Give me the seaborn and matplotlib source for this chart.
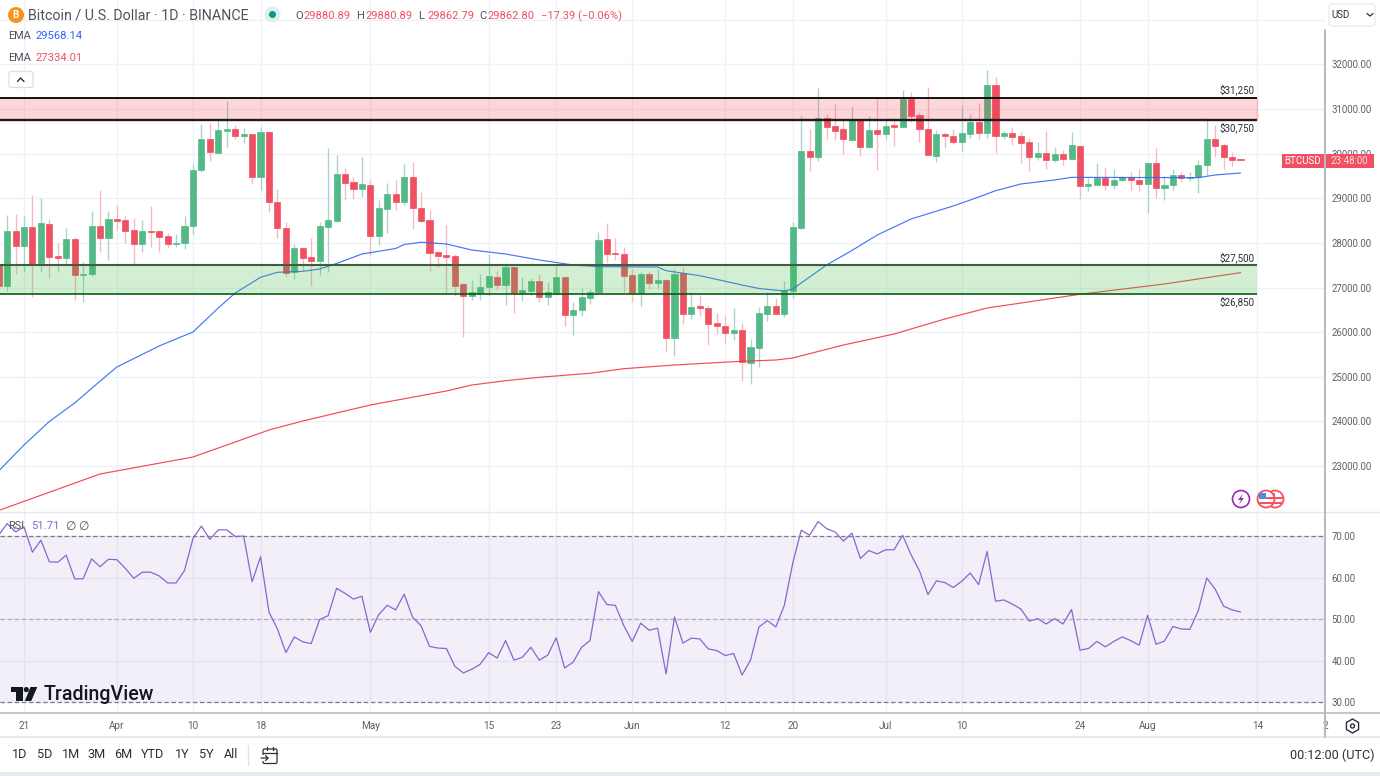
import numpy as np
import pandas as pd
import seaborn as sns
import matplotlib.pyplot as plt
from matplotlib.patches import Circle, FancyBboxPatch, Polygon, RegularPolygon, Rectangle

# daily candles, day 0 is the "21" tick of March
first_day = -3
open_ = [
    27500, 27034, 28260, 27923, 28357, 27542, 28432, 27707, 27669, 28080,
    27281, 27296, 28379, 28118, 28529, 28514, 28290, 27976, 28267, 28260,
    28155, 27976, 27991, 28379, 29635, 30330, 30016, 30517, 30546, 30404,
    30434, 29485, 30487, 28910, 28335, 27355, 27886, 27684, 27595, 28357,
    28491, 29545, 29358, 29201, 29298, 28163, 28760, 29097, 28925, 29478,
    28790, 28514, 27789, 27729, 27707, 27071, 26817, 26877, 27004, 27243,
    27064, 27460, 26877, 26922, 27146, 26788, 26877, 27236, 26384, 26489,
    26773, 26900, 28088, 27774, 27759, 27281, 26877, 27296, 27109, 27169,
    25861, 27326, 26406, 26586, 26548, 26197, 26145, 25988, 26048, 25315,
    25652, 26406, 26586, 26406, 26922, 28342, 30061, 29934, 30801, 30614,
    30547, 30307, 30756, 30158, 30532, 30449, 30644, 30606, 31234, 30868,
    30562, 29949, 30435, 30390, 30270, 30449, 30711, 30464, 31533, 30390,
    30464, 30390, 30263, 29934, 30016, 29866, 29993, 29881, 30173, 29276,
    29306, 29455, 29306, 29403, 29478, 29403, 29321, 29792, 29231, 29291,
    29530, 29455, 29470, 29747, 30337, 30195, 29934, 29880.89,
]
high = [
    27520, 28626, 28648, 28604, 29074, 29000, 28529, 27991, 28327, 28125,
    27580, 28723, 29186, 28723, 28850, 28626, 28551, 28514, 28828, 28290,
    28215, 28200, 28611, 29769, 30666, 30696, 30756, 31182, 30644, 30569,
    30440, 30606, 30500, 29201, 28469, 27976, 27900, 28103, 28476, 30120,
    29971, 29687, 29485, 29934, 29411, 28962, 29351, 29411, 29769, 29807,
    29134, 28738, 27800, 28402, 27744, 27094, 27169, 27303, 27744, 27378,
    27542, 27470, 27228, 27206, 27303, 27131, 27505, 27240, 26668, 26982,
    26959, 28245, 28439, 28103, 27908, 27415, 27356, 27370, 27415, 27180,
    27408, 27468, 26892, 26832, 26608, 26421, 26384, 26548, 26197, 25838,
    26571, 26892, 26758, 27146, 28461, 30845, 30554, 31481, 30883, 31115,
    30756, 31077, 30778, 30853, 31279, 30756, 30793, 31428, 31384, 30943,
    31488, 30532, 30494, 30554, 31092, 30890, 31129, 31877, 31712, 30517,
    30591, 30494, 30345, 30255, 30509, 30158, 30083, 30479, 30180, 29448,
    29799, 29710, 29650, 29508, 29597, 29650, 29799, 30135, 29508, 29650,
    29582, 29590, 29859, 30793, 30644, 30233, 30031, 29880.89,
]
low = [
    27000, 26922, 27303, 27355, 26795, 27355, 27221, 27355, 27505, 26720,
    26683, 27266, 27804, 27617, 28290, 27991, 27505, 27804, 27916, 27804,
    27879, 27916, 27856, 28192, 29597, 29837, 30008, 30158, 30330, 30248,
    29321, 29186, 28701, 28118, 27243, 27199, 27393, 27034, 27281, 27355,
    28476, 28962, 28977, 29037, 27729, 27953, 28215, 28738, 28850, 28312,
    28476, 27378, 27468, 26870, 26810, 25898, 26720, 26720, 26817, 26944,
    26608, 26421, 26698, 26832, 26683, 26608, 26855, 26145, 25936, 26362,
    26631, 26855, 27565, 27617, 26892, 26675, 26586, 26967, 26997, 25562,
    25465, 26182, 26294, 26369, 25711, 25958, 25749, 25824, 24912, 24837,
    25226, 26257, 26400, 26332, 26758, 28320, 29612, 29837, 30330, 30307,
    29986, 30300, 29949, 30136, 29635, 30307, 30173, 30600, 30718, 30270,
    29965, 29807, 30136, 30218, 30061, 30360, 30322, 30360, 30023, 30337,
    30195, 29799, 29620, 29859, 29650, 29822, 29747, 29859, 28985, 29164,
    29298, 29186, 29209, 29381, 29186, 29164, 28663, 28999, 28962, 29186,
    29373, 29388, 29126, 29523, 29934, 29657, 29732, 29862.79,
]
close = [
    27034, 28275, 27938, 28357, 27505, 28447, 27684, 27669, 28095, 27281,
    27303, 28379, 28118, 28529, 28499, 28267, 27976, 28260, 28252, 28140,
    27976, 27998, 28379, 29627, 30330, 30038, 30532, 30546, 30404, 30434,
    29485, 30487, 28910, 28327, 27333, 27886, 27669, 27595, 28372, 28506,
    29538, 29343, 29201, 29313, 28163, 28775, 29097, 28925, 29478, 28775,
    28499, 27781, 27707, 27692, 27034, 26810, 26900, 27019, 27258, 27064,
    27453, 26877, 26937, 27146, 26795, 26892, 27228, 26392, 26504, 26788,
    26900, 28065, 27759, 27752, 27258, 26877, 27296, 27101, 27169, 25861,
    27303, 26406, 26563, 26541, 26182, 26145, 25988, 26048, 25338, 25667,
    26429, 26586, 26406, 26937, 28357, 30061, 29934, 30793, 30606, 30509,
    30322, 30756, 30158, 30532, 30449, 30629, 30606, 31234, 30853, 30547,
    29971, 30435, 30390, 30270, 30464, 30711, 30464, 31533, 30390, 30464,
    30375, 30248, 29934, 30016, 29866, 29993, 29874, 30195, 29276, 29321,
    29455, 29306, 29411, 29478, 29403, 29321, 29792, 29239, 29306, 29530,
    29463, 29485, 29754, 30337, 30180, 29919, 29859, 29862.80,
]
rsi = [
    70.2, 73.0, 71.0, 72.2, 66.1, 69.0, 63.8, 63.7, 65.4, 59.7,
    59.7, 64.5, 62.6, 64.4, 64.3, 62.2, 59.8, 61.3, 61.3, 60.4,
    58.7, 58.7, 61.7, 69.4, 72.4, 69.2, 71.5, 71.5, 69.9, 70.0,
    59.0, 65.0, 51.7, 47.6, 41.9, 45.7, 44.5, 44.1, 49.9, 50.8,
    57.4, 56.2, 54.8, 55.5, 46.8, 51.1, 53.3, 52.2, 56.0, 50.4,
    48.4, 43.4, 43.0, 42.9, 38.6, 37.0, 37.9, 39.1, 41.9, 40.6,
    44.8, 40.1, 40.8, 43.2, 40.1, 41.3, 45.5, 38.2, 39.6, 43.2,
    44.8, 56.6, 53.5, 53.3, 48.4, 44.6, 49.0, 47.3, 47.8, 36.8,
    50.5, 44.2, 45.4, 45.2, 42.8, 42.4, 41.2, 41.7, 36.5, 40.1,
    48.1, 49.6, 48.1, 53.3, 63.5, 71.4, 70.2, 73.5, 71.8, 71.0,
    68.8, 70.7, 64.6, 66.5, 65.7, 66.7, 66.7, 70.2, 65.5, 61.6,
    55.9, 59.2, 58.8, 57.6, 59.1, 61.1, 58.3, 66.3, 54.3, 54.6,
    53.6, 52.4, 49.5, 50.1, 48.8, 50.1, 48.8, 52.3, 42.5, 42.9,
    44.6, 43.3, 44.6, 45.7, 44.8, 43.7, 50.9, 43.9, 44.7, 48.2,
    47.6, 47.5, 52.0, 59.9, 57.2, 53.1, 52.2, 51.71,
]

# moving averages
ema_fast_day = [-3, 0, 3, 6, 9, 11, 16, 20, 23, 25, 28, 30, 33, 35, 37, 40, 44, 45, 47, 50,
                53, 57, 61, 65, 68, 75, 76, 80, 85, 87, 90, 91, 95, 98, 101, 105, 110, 113,
                115, 118, 122, 124, 139, 141, 144]
ema_fast = [22886, 23469, 23996, 24411, 24900, 25218, 25689, 26002, 26541, 26877, 27229, 27341,
            27363, 27415, 27538, 27751, 27875, 27964, 28014, 27976, 27841, 27751, 27617, 27505,
            27467, 27460, 27377, 27265, 27056, 26978, 26922, 26967, 27505, 27830, 28177, 28536,
            28828, 29029, 29170, 29321, 29411, 29470, 29463, 29523, 29568.14]
ema_slow_day = [-3, 9, 20, 29, 33, 41, 50, 53, 57, 61, 67, 71, 77, 84, 89, 91, 97, 103, 109,
                114, 125, 135, 144]
ema_slow = [22001, 22819, 23200, 23805, 24007, 24366, 24680, 24814, 24911, 24987, 25077, 25180,
            25263, 25337, 25375, 25420, 25711, 25958, 26294, 26540, 26848, 27079, 27334.01]

price_ticks = [23000, 24000, 25000, 26000, 27000, 28000, 29000, 30000, 31000, 32000, 33000]
rsi_ticks = [30, 40, 50, 60, 70]
date_days = [0, 11, 20, 28, 41, 55, 63, 72, 83, 91, 102, 111, 125, 133, 146, 154]
date_labels = ["21", "Apr", "10", "18", "May", "15", "23", "Jun", "12", "20", "Jul", "10", "24", "Aug", "14", "2"]

zones = [
    (30750, 31250, "$31,250", "$30,750"),
    (26850, 27500, "$27,500", "$26,850"),
]
zone_end = 146

GREEN = "#53b987"
RED = "#ef5062"
GREEN_WICK = "#a9d2cf"
RED_WICK = "#f7b8c0"
GRID = "#eef2f7"
TXT = "#5d606b"

sns.set_theme(style="white")
plt.rcParams["font.family"] = ["Roboto", "DejaVu Sans"]

W, H = 1380, 776
fig = plt.figure(figsize=(W / 100, H / 100), dpi=100, facecolor="white")
ax = fig.add_axes([0, 1 - 512 / H, 1325 / W, 512 / H])
ax_rsi = fig.add_axes([0, 1 - 713 / H, 1325 / W, 201 / H])

df = pd.DataFrame({"open": open_, "high": high, "low": low, "close": close, "rsi": rsi})
df["day"] = first_day + np.arange(len(df))
df["up"] = df["close"] >= df["open"]

xlim = (-2.84, 153.96)

for a in (ax, ax_rsi):
    a.set_xlim(*xlim)
    a.set_xticks(date_days)
    a.grid(True, color=GRID, linewidth=1)
    a.set_axisbelow(True)
    for s in a.spines.values():
        s.set_visible(False)
    a.yaxis.tick_right()
    a.tick_params(axis="y", length=0, pad=4.5, labelsize=6.9, labelcolor=TXT)

# candles
ax.vlines(df["day"], df["low"], df["high"], colors=[GREEN_WICK if u else RED_WICK for u in df["up"]],
          linewidth=0.95, zorder=2)
ax.bar(df["day"], (df["close"] - df["open"]).abs(), bottom=df[["open", "close"]].min(axis=1), width=0.72,
       color=[GREEN if u else RED for u in df["up"]], edgecolor=[GREEN if u else RED for u in df["up"]],
       linewidth=0.5, zorder=3)

# moving averages
sns.lineplot(x=ema_fast_day, y=ema_fast, ax=ax, color="#2f67f5", linewidth=0.85, alpha=0.9, zorder=4, errorbar=None)
sns.lineplot(x=ema_slow_day, y=ema_slow, ax=ax, color="#f23645", linewidth=0.85, alpha=0.9, zorder=4, errorbar=None)

# support / resistance boxes sit over everything
ax.fill_between([xlim[0], zone_end], zones[0][0], zones[0][1], color="#f23645", alpha=0.2, linewidth=0, zorder=5)
ax.fill_between([xlim[0], zone_end], zones[1][0], zones[1][1], color="#43c04a", alpha=0.24, linewidth=0, zorder=5)
ax.vlines(zone_end, zones[0][0], zones[0][1], color="#f7b3ba", linewidth=1, zorder=6)
ax.hlines(zones[0][1], xlim[0], zone_end, color="black", linewidth=1.3, zorder=6)
ax.hlines(zones[0][0], xlim[0], zone_end, color="#201a1a", linewidth=1.7, zorder=6)
ax.hlines(zones[1][1], xlim[0], zone_end, color="#3f5d3f", linewidth=1.5, zorder=6)
ax.hlines(zones[1][0], xlim[0], zone_end, color="#0b5d0b", linewidth=1.2, zorder=6)

ax.set_ylim(21967, 33446)
ax.set_yticks(price_ticks)
ax.set_yticklabels([f"{p:.2f}" if p < 33000 else "" for p in price_ticks])
ax.tick_params(axis="x", length=0, labelbottom=False)
for z in zones:
    ax.text(zone_end - 0.35, z[1] + 175, z[2], ha="right", va="center", fontsize=7.1, color="#2a2e39", zorder=7)
    ax.text(zone_end - 0.35, z[0] - 160, z[3], ha="right", va="center", fontsize=7.1, color="#2a2e39", zorder=7)

# RSI pane
ax_rsi.axhspan(30, 70, color="#7e57c2", alpha=0.095, linewidth=0, zorder=1)
sns.lineplot(x=df["day"], y=df["rsi"], ax=ax_rsi, color="#8a65cf", linewidth=0.9, zorder=4, errorbar=None)
ax_rsi.axhline(70, color="#787b86", linewidth=0.9, dashes=(3.5, 2.2), zorder=3)
ax_rsi.axhline(30, color="#787b86", linewidth=0.9, dashes=(3.5, 2.2), zorder=3)
ax_rsi.axhline(50, color="#b3abc4", linewidth=0.9, dashes=(3.5, 2.2), zorder=3)
ax_rsi.set_ylim(27.35, 75.8)
ax_rsi.set_yticks(rsi_ticks)
ax_rsi.set_yticklabels([f"{v:.2f}" for v in rsi_ticks])
ax_rsi.set_xticks(date_days)
ax_rsi.set_xticklabels(date_labels)
ax_rsi.tick_params(axis="x", length=0, pad=6, labelsize=7.2, labelcolor=TXT)
ax_rsi.set_xlabel("")
ax_rsi.set_ylabel("")
ax.set_xlabel("")
ax.set_ylabel("")

# overlay in screen pixels for the TradingView furniture
ui = fig.add_axes([0, 0, 1, 1], facecolor="none")
ui.set_xlim(0, W)
ui.set_ylim(H, 0)
ui.axis("off")
ui.set_zorder(10)


def fs(px):
    return px * 0.72


def label(x, y, s, size=11, color="#4a4e5a", ha="left", **kw):
    ui.text(x, y, s, fontsize=fs(size), color=color, ha=ha, va="center", **kw)


# panel borders
ui.plot([0, W], [512, 512], color="#e6e9ef", lw=1)
ui.plot([0, W], [713, 713], color="#b8bbc4", lw=1.2)
ui.plot([0, W], [737, 737], color="#e3e5ea", lw=1.2)
ui.plot([1325, 1325], [30, 737], color="#b8bbc4", lw=1.5)
ui.add_patch(Rectangle((0, 772), W, 4, color="#e9ebf2", lw=0))

# header
ui.add_patch(Circle((16, 15), 8, color="#f7931a", lw=0))
ui.text(16, 15.3, "B", fontsize=fs(10), color="white", ha="center", va="center", fontweight="bold")
label(28, 15, "Bitcoin / U.S. Dollar · 1D · BINANCE", size=14.2, color="#50535e")
ui.add_patch(Circle((272.5, 14.5), 8, color="#daf1ed", lw=0))
ui.add_patch(Circle((272.5, 14.5), 3.5, color="#089981", lw=0))
ohlc_x = [295, 356, 418, 479]
ohlc_names = ["O", "H", "L", "C"]
ohlc_vals = ["29880.89", "29880.89", "29862.79", "29862.80"]
for x0, n, v in zip(ohlc_x, ohlc_names, ohlc_vals):
    label(x0, 16, n, size=11.2, color="#50535e")
    label(x0 + 9, 16, v, size=11.2, color=RED)
label(541, 16, "−17.39 (−0.06%)", size=11.1, color=RED)
label(8, 36, "EMA", size=11, color="#50535e")
label(36, 36, "29568.14", size=11.2, color="#2962ff")
label(8, 58, "EMA", size=11, color="#50535e")
label(36, 58, "27334.01", size=11.2, color=RED)
ui.add_patch(FancyBboxPatch((9, 71.5), 24, 16, boxstyle="round,pad=0,rounding_size=2", fc="white", ec="#dcdfe6", lw=0.9))
ui.plot([17.5, 20.5, 24], [81.5, 78, 81.5], color="#2a2e39", lw=1)

# USD selector
ui.add_patch(FancyBboxPatch((1329, 4), 46, 22, boxstyle="round,pad=0,rounding_size=3", fc="white", ec="#e6e9ef", lw=0.9))
label(1331.5, 14.5, "USD", size=9.6, color="#2a2e39")
ui.plot([1367, 1370, 1373], [13.5, 16, 13.5], color="#2a2e39", lw=0.9)

# last price tag
ui.add_patch(Rectangle((1281.5, 154), 42.5, 14, color=RED, lw=0))
ui.add_patch(Rectangle((1325.5, 154), 48, 14, color=RED, lw=0))
label(1302.5, 161, "BTCUSD", size=9.8, color="white", ha="center")
label(1349.5, 161, "23:48:00", size=9.8, color="#fbdde1", ha="center")

# event markers
ui.add_patch(Circle((1241, 499), 8.5, fc="white", ec="#9c27b0", lw=1.2))
ui.add_patch(Polygon([(1243, 493.5), (1238, 500), (1241, 500), (1239, 504.5), (1244, 498), (1241, 498)], color="#9c27b0", lw=0))
for cx in (1275, 1266):
    ui.add_patch(Circle((cx, 499), 8.5, fc="white", ec="#f6525f", lw=1.3, zorder=3))
    ui.add_patch(Rectangle((cx - 7.5, 497), 15, 2.2, color="#f6525f", lw=0, zorder=3))
    ui.add_patch(Rectangle((cx - 7, 501.5), 14, 2.2, color="#f6525f", lw=0, zorder=3))
    ui.add_patch(Rectangle((cx - 7, 492.5), 7, 6, color="#4a90e2", lw=0, zorder=3))

# RSI caption and logo
label(8, 526, "RSI", size=11, color="#50535e")
label(31, 526, "51.71", size=11.2, color="#8a65cf")
label(65, 526, "∅", size=12, color="#50535e")
label(78, 526, "∅", size=12, color="#50535e")
ui.add_patch(Polygon([(10.7, 687), (22.5, 687), (22.5, 701), (16, 701), (16, 692), (10.7, 692)], color="#131722", lw=0))
ui.add_patch(Circle((26.3, 689.6), 2.6, color="#131722", lw=0))
ui.add_patch(Polygon([(30.5, 687), (37.3, 687), (31.2, 701), (24.8, 701)], color="#131722", lw=0))
label(44, 694, "TradingView", size=19.7, color="#131722", fontweight="medium")

# bottom toolbar
ranges = ["1D", "5D", "1M", "3M", "6M", "YTD", "1Y", "5Y", "All"]
range_x = [20, 45, 71, 97, 123, 153, 182, 206, 231]
for x0, r in zip(range_x, ranges):
    label(x0, 755, r, size=12.6, color="#2a2e39", ha="center")
ui.plot([248, 248], [745, 765], color="#e0e3eb", lw=1)
ui.add_patch(FancyBboxPatch((263, 749), 14, 14.5, boxstyle="round,pad=0,rounding_size=1.5", fc="none", ec="#2a2e39", lw=0.9))
ui.plot([263, 277], [752.5, 752.5], color="#2a2e39", lw=0.9)
ui.plot([267, 267], [746.5, 750], color="#2a2e39", lw=0.9)
ui.plot([273, 273], [746.5, 750], color="#2a2e39", lw=0.9)
ui.add_patch(Rectangle((259, 755), 10, 6, fc="white", ec="none"))
ui.plot([261, 268, 265.5], [758, 758, 755.5], color="#2a2e39", lw=0.9)
ui.plot([268, 265.5], [758, 760.5], color="#2a2e39", lw=0.9)
label(1374, 755, "00:12:00 (UTC)", size=12.6, color="#2a2e39", ha="right")
ui.add_patch(RegularPolygon((1352.5, 726), 6, radius=7, fc="none", ec="#2a2e39", lw=1))
ui.add_patch(Circle((1352.5, 726), 2, fc="none", ec="#2a2e39", lw=1))

fig.savefig("out.png", dpi=100)
